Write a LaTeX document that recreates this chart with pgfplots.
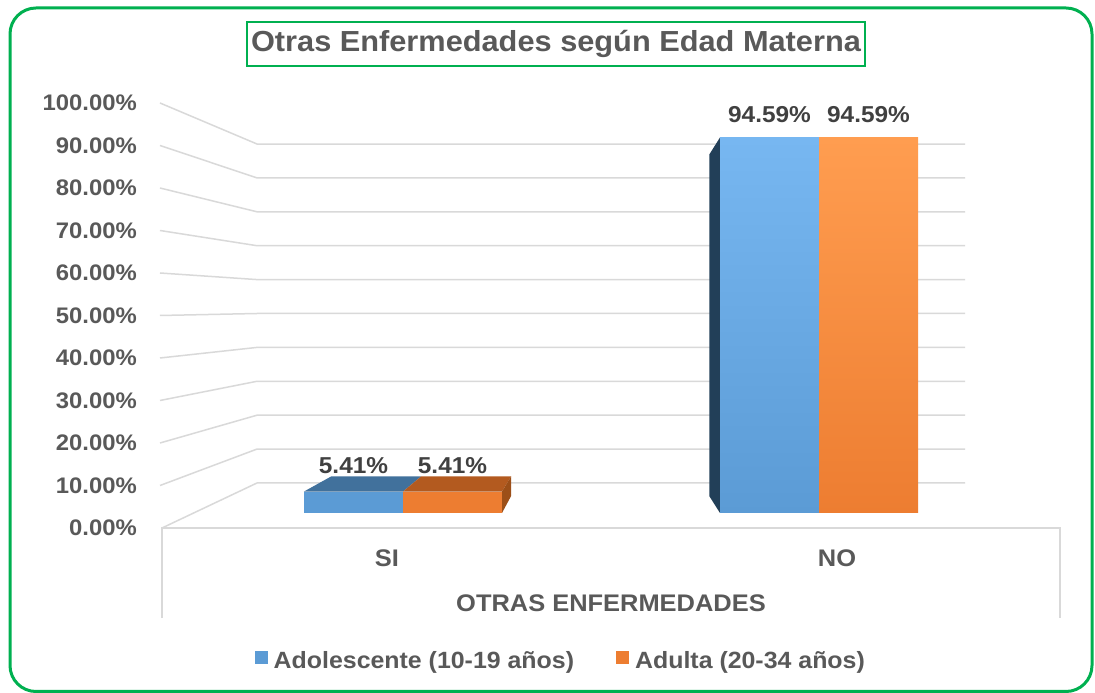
\documentclass[border=0pt]{standalone}
\usepackage{pgfplots}
\pgfplotsset{compat=1.18}
\usepackage{fontspec}
\setmainfont{Liberation Sans}[FakeStretch=1.06]
\usetikzlibrary{calc}

\definecolor{gridc}{HTML}{D9D9D9}
\definecolor{txt}{HTML}{595959}
\definecolor{lab}{HTML}{404040}
\definecolor{blueF}{HTML}{5B9BD5}
\definecolor{blueL}{HTML}{77B7F1}
\definecolor{orF}{HTML}{ED7D31}
\definecolor{orL}{HTML}{FF9D50}
\definecolor{blueTop}{HTML}{41719C}
\definecolor{orTop}{HTML}{B35A1F}
\definecolor{orSide}{HTML}{9C4F18}
\definecolor{blueSide}{HTML}{223F58}
\definecolor{frame}{HTML}{00B050}

\begin{document}
\begin{tikzpicture}[x=1pt,y=1pt]
\useasboundingbox (0,0) rectangle (1095,693);
\fill[white] (0,0) rectangle (1095,693);
\draw[frame, line width=3pt, rounded corners=26pt] (10,1.5) rectangle (1092,685);
\node[draw=frame, line width=2pt, minimum width=618pt, minimum height=44pt, inner sep=0pt,
      text=txt, font=\bfseries\fontsize{29}{34}\selectfont] at (556,649)
      {Otras Enfermedades según Edad Materna};

% front plane axis: tick labels, gridlines, floor, categories
\begin{axis}[at={(160pt,165pt)}, anchor=south west, scale only axis,
  width=902pt, height=425pt, xmin=160, xmax=1062, ymin=0, ymax=100,
  axis line style={draw=none}, major tick length=0pt, tick style={draw=none},
  clip=false,
  /pgf/number format/assume math mode=true,
  ytick={0,10,...,100},
  yticklabel={\pgfmathprintnumber[fixed,fixed zerofill,precision=2]{\tick}\%},
  yticklabel style={anchor=east, inner sep=0pt, xshift=-23pt, text=txt,
     font=\bfseries\fontsize{22.5}{26}\selectfont},
  xtick={387,837}, xticklabels={SI,NO},
  xticklabel style={anchor=north, inner sep=0pt, yshift=-22pt, text=txt,
     font=\bfseries\fontsize{24}{28}\selectfont},
  xlabel={OTRAS ENFERMEDADES},
  every axis x label/.style={at={(axis description cs:0.5,0)}, anchor=center,
     yshift=-75pt, text=txt, font=\bfseries\fontsize{24}{28}\selectfont},
]
\draw[gridc, line width=1.5pt] (axis cs:160,10) -- (axis cs:257,18.57) -- (axis cs:965,18.57);
\draw[gridc, line width=1.5pt] (axis cs:160,20) -- (axis cs:257,26.54) -- (axis cs:965,26.54);
\draw[gridc, line width=1.5pt] (axis cs:160,30) -- (axis cs:257,34.52) -- (axis cs:965,34.52);
\draw[gridc, line width=1.5pt] (axis cs:160,40) -- (axis cs:257,42.49) -- (axis cs:965,42.49);
\draw[gridc, line width=1.5pt] (axis cs:160,50) -- (axis cs:257,50.47) -- (axis cs:965,50.47);
\draw[gridc, line width=1.5pt] (axis cs:160,60) -- (axis cs:257,58.45) -- (axis cs:965,58.45);
\draw[gridc, line width=1.5pt] (axis cs:160,70) -- (axis cs:257,66.42) -- (axis cs:965,66.42);
\draw[gridc, line width=1.5pt] (axis cs:160,80) -- (axis cs:257,74.40) -- (axis cs:965,74.40);
\draw[gridc, line width=1.5pt] (axis cs:160,90) -- (axis cs:257,82.37) -- (axis cs:965,82.37);
\draw[gridc, line width=1.5pt] (axis cs:160,100) -- (axis cs:257,90.35) -- (axis cs:965,90.35);
\draw[gridc, line width=1.5pt] (axis cs:162,0) -- (axis cs:257,10.59) -- (axis cs:965,10.59);
\draw[gridc, line width=1.5pt] (axis cs:162,-21.2) -- (axis cs:162,0) -- (axis cs:1060,0) -- (axis cs:1060,-21.2);
\end{axis}

% bar axis (middle plane)
\begin{axis}[at={(257.4pt,180pt)}, anchor=south west, scale only axis,
  width=707.2pt, height=397pt, xmin=-0.35, xmax=1.35, ymin=0, ymax=100,
  hide axis, clip=false, ybar=0pt, bar width=99pt,
  /pgf/number format/assume math mode=true,
  nodes near coords={\pgfmathprintnumber[fixed,fixed zerofill,precision=2,assume math mode=true]{\pgfplotspointmeta}\%},
  every node near coord/.append style={anchor=south, inner sep=0pt, text=lab,
     font=\bfseries\fontsize{23}{27}\selectfont},
  legend style={at={(0.429,-0.373)}, anchor=center, draw=none, fill=none,
     legend columns=2, text=txt, font=\bfseries\fontsize{23.5}{28}\selectfont,
     /tikz/every odd column/.append style={column sep=4pt},
     /tikz/every even column/.append style={column sep=40pt}},
  legend cell align=left,
  legend image code/.code={\fill[#1] (0pt,-3pt) rectangle (13pt,10pt);},
]
% 3D faces from the data values (vanishing point in axis units)
\fill[blueTop] (axis cs:-0.238,5.41) -- (axis cs:0,5.41)
   -- ($(axis cs:0,5.41)!0.0909!(axis cs:0.478,47.1)$)
   -- ($(axis cs:-0.238,5.41)!0.0909!(axis cs:0.478,47.1)$) -- cycle;
\fill[orTop] (axis cs:0,5.41) -- (axis cs:0.238,5.41)
   -- ($(axis cs:0.238,5.41)!0.0909!(axis cs:0.478,47.1)$)
   -- ($(axis cs:0,5.41)!0.0909!(axis cs:0.478,47.1)$) -- cycle;
\fill[orSide] (axis cs:0.238,0) -- (axis cs:0.238,5.41)
   -- ($(axis cs:0.238,5.41)!0.0909!(axis cs:0.478,47.1)$)
   -- ($(axis cs:0.238,0)!0.0909!(axis cs:0.478,47.1)$) -- cycle;
\fill[blueSide] (axis cs:0.762,0) -- (axis cs:0.762,94.59)
   -- ($(axis cs:0.762,94.59)!0.0909!(axis cs:0.478,47.1)$)
   -- ($(axis cs:0.762,0)!0.0909!(axis cs:0.478,47.1)$) -- cycle;

\addplot[draw=none, fill=blueF, bar shift=-49.5pt,
   every node near coord/.append style={yshift=18pt}] coordinates {(0,5.41)};
\addlegendentry{Adolescente (10-19 años)}
\addplot[draw=none, fill=orF, bar shift=49.5pt,
   every node near coord/.append style={yshift=18pt}] coordinates {(0,5.41)};
\addlegendentry{Adulta (20-34 años)}
\addplot[draw=none, top color=blueL, bottom color=blueF, bar shift=-49.5pt, forget plot,
   every node near coord/.append style={yshift=15pt}] coordinates {(1,94.59)};
\addplot[draw=none, top color=orL, bottom color=orF, bar shift=49.5pt, forget plot,
   every node near coord/.append style={yshift=15pt}] coordinates {(1,94.59)};
\end{axis}
\end{tikzpicture}
\end{document}
